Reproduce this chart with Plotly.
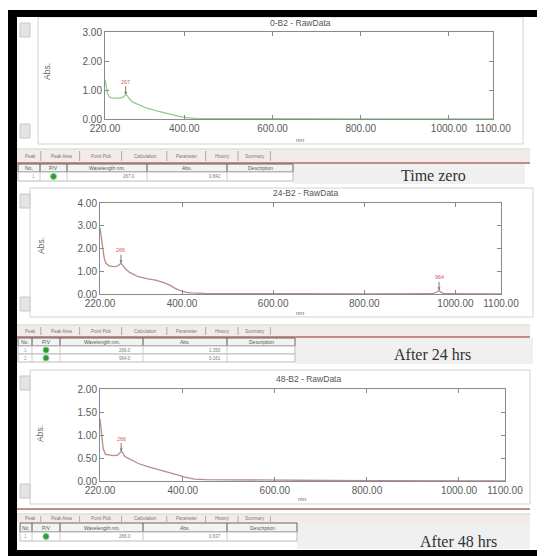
import plotly.graph_objects as go

W, H = 545, 556
OFF = 8  # page body margin offset in the screenshot

# ---------------- data ----------------
wl_0 = [220, 223, 226, 230, 235, 245, 255, 262, 267, 270, 276, 283, 300, 314, 335, 354, 375, 393, 410, 424, 450, 500, 600, 700, 800, 900, 1000, 1100]
abs_0 = [1.36, 1.15, 0.88, 0.76, 0.73, 0.72, 0.72, 0.76, 0.84, 0.82, 0.68, 0.58, 0.46, 0.38, 0.29, 0.21, 0.13, 0.07, 0.04, 0.02, 0.015, 0.01, 0.005, 0.003, 0.002, 0.001, 0.001, 0.0]

wl_24 = [220, 223, 226, 229, 233, 240, 250, 258, 263, 266, 269, 274, 285, 304, 325, 342, 360, 373, 385, 396, 410, 419, 450, 500, 600, 650, 800, 950, 960, 964, 968, 975, 1100]
abs_24 = [2.9, 2.5, 2.0, 1.6, 1.35, 1.24, 1.2, 1.22, 1.3, 1.35, 1.3, 1.14, 0.95, 0.76, 0.66, 0.61, 0.5, 0.39, 0.25, 0.15, 0.07, 0.05, 0.03, 0.02, 0.015, 0.01, 0.008, 0.01, 0.1, 0.16, 0.08, 0.01, 0.005]

wl_48 = [220, 223, 227, 232, 240, 250, 258, 263, 266, 269, 274, 290, 303, 322, 341, 360, 379, 392, 402, 425, 450, 500, 592, 650, 800, 1100]
abs_48 = [1.35, 1.1, 0.7, 0.58, 0.56, 0.55, 0.56, 0.6, 0.64, 0.62, 0.53, 0.45, 0.38, 0.32, 0.27, 0.22, 0.17, 0.12, 0.09, 0.04, 0.03, 0.025, 0.02, 0.01, 0.005, 0.0]

peaks_0 = [(267, 0.84, "267")]
peaks_24 = [(266, 1.35, "266"), (964, 0.16, "964")]
peaks_48 = [(266, 0.64, "266")]

x_ticks = [220, 400, 600, 800, 1000, 1100]
x_tick_text = ["220.00", "400.00", "600.00", "800.00", "1000.00", "1100.00"]
y_ticks_0 = [0, 1, 2, 3]
y_ticks_24 = [0, 1, 2, 3, 4]
y_ticks_48 = [0, 0.5, 1.0, 1.5, 2.0]

titles = ["0-B2 - RawData", "24-B2 - RawData", "48-B2 - RawData"]
captions = ["Time zero", "After 24 hrs", "After 48 hrs"]
tabs = ["Peak", "Peak Area", "Point Pick", "Calculation", "Parameter", "History", "Summary"]
table_header = ["No.", "P/V", "Wavelength nm.", "Abs.", "Description"]
rows_0 = [["1", "P", "267.0", "0.842"]]
rows_24 = [["1", "P", "266.0", "1.350"], ["2", "P", "964.0", "0.161"]]
rows_48 = [["1", "P", "266.0", "0.637"]]

colors = ["#8fcc8f", "#b98a8a", "#b58c8c"]

# ---------------- helpers ----------------
def px(x):
    return (x - OFF) / W

def py(y):
    return 1 - (y - OFF) / H

shapes = []
annotations = []

def rect(x0, y0, x1, y1, fill=None, line=None, lw=1, layer="below"):
    shapes.append(dict(type="rect", xref="paper", yref="paper",
                       x0=px(x0), x1=px(x1), y0=py(y1), y1=py(y0),
                       fillcolor=fill if fill else "rgba(0,0,0,0)",
                       line=dict(color=line if line else "rgba(0,0,0,0)", width=lw if line else 0),
                       layer=layer))

def hline(x0, x1, y, color, lw=1):
    shapes.append(dict(type="line", xref="paper", yref="paper",
                       x0=px(x0), x1=px(x1), y0=py(y), y1=py(y),
                       line=dict(color=color, width=lw), layer="below"))

def vline(x, y0, y1, color, lw=1):
    shapes.append(dict(type="line", xref="paper", yref="paper",
                       x0=px(x), x1=px(x), y0=py(y0), y1=py(y1),
                       line=dict(color=color, width=lw), layer="below"))

def text(x, y, s, size=8, color="#555", family="Liberation Sans", angle=0, xanchor="center"):
    annotations.append(dict(x=px(x), y=py(y), xref="paper", yref="paper", text=s,
                            showarrow=False, textangle=angle, xanchor=xanchor, yanchor="middle",
                            font=dict(size=size, color=color, family=family)))

# ---------------- figure ----------------
fig = go.Figure()

panels = [
    dict(wl=wl_0, ab=abs_0, peaks=peaks_0, yt=y_ticks_0, yr=[0, 3],
         plot=(105, 32, 493, 119), frame=(38, 17, 523, 144), title_xy=(300, 23),
         abs_xy=(47, 72), nm_xy=(300, 140)),
    dict(wl=wl_24, ab=abs_24, peaks=peaks_24, yt=y_ticks_24, yr=[0, 4],
         plot=(100, 203, 501, 294), frame=(30, 188, 533, 317), title_xy=(305, 193),
         abs_xy=(41, 246), nm_xy=(300, 313)),
    dict(wl=wl_48, ab=abs_48, peaks=peaks_48, yt=y_ticks_48, yr=[0, 2],
         plot=(100, 389, 505, 481), frame=(30, 370, 530, 504), title_xy=(308, 379),
         abs_xy=(40, 434), nm_xy=(302, 499)),
]

layout_axes = {}
for i, p in enumerate(panels):
    n = "" if i == 0 else str(i + 1)
    x0, y0, x1, y1 = p["plot"]
    fig.add_trace(go.Scatter(x=p["wl"], y=p["ab"], mode="lines",
                             line=dict(color=colors[i], width=1.3),
                             xaxis="x" + n, yaxis="y" + n, showlegend=False,
                             hoverinfo="skip"))
    layout_axes["xaxis" + n] = dict(domain=[px(x0), px(x1)], range=[220, 1100], anchor="y" + n,
                                    tickvals=x_ticks, ticktext=x_tick_text, automargin=False,
                                    ticks="inside", ticklen=4, tickcolor="#888",
                                    showline=True, linecolor="#8a8a8a", linewidth=1, mirror="ticks",
                                    showgrid=False, zeroline=False,
                                    tickfont=dict(size=10, color="#5a5a5a", family="Liberation Sans"))
    layout_axes["yaxis" + n] = dict(domain=[py(y1), py(y0)], range=p["yr"], anchor="x" + n,
                                    tickvals=p["yt"], ticktext=["%.2f" % v for v in p["yt"]],
                                    automargin=False,
                                    ticks="inside", ticklen=4, tickcolor="#888",
                                    showline=True, linecolor="#8a8a8a", linewidth=1, mirror="ticks",
                                    showgrid=False, zeroline=False,
                                    tickfont=dict(size=10, color="#5a5a5a", family="Liberation Sans"))
    for (pw, pa, lab) in p["peaks"]:
        annotations.append(dict(x=pw, y=pa, xref="x" + n, yref="y" + n, text=lab,
                                showarrow=True, arrowhead=2, arrowsize=0.6, arrowwidth=1,
                                arrowcolor="#777", ax=0, ay=-13,
                                font=dict(size=5.5, color="#d06060", family="Liberation Sans")))
    fx0, fy0, fx1, fy1 = p["frame"]
    rect(fx0, fy0, fx1, fy1, fill="white", line="#d2d2d2")
    text(*p["title_xy"], titles[i], size=8.5, color="#555")
    text(*p["abs_xy"], "Abs.", size=8.5, color="#666", angle=-90)
    text(*p["nm_xy"], "nm", size=6, color="#666")
    rect(20, fy0 + 6, 30, fy0 + 20, fill="#e4e4e4", line="#c8c8c8")
    rect(20, fy1 - 20, 30, fy1 - 6, fill="#e4e4e4", line="#c8c8c8")

tables = [
    dict(tab_y=(150, 162), red_y=163, head=(164, 172), rows=rows_0, row_h=9,
         cols=[18, 40, 67, 147, 227, 293], band=(293, 164, 525, 184), cap_xy=(433, 175)),
    dict(tab_y=(326, 336), red_y=337, head=(338, 346), rows=rows_24, row_h=8,
         cols=[18, 32, 60, 143, 227, 295], band=(295, 338, 533, 364), cap_xy=(432, 354)),
    dict(tab_y=(515, 523), red_y=509, head=(523, 532), rows=rows_48, row_h=9,
         cols=[20, 32, 60, 143, 227, 297], band=(297, 523, 530, 549), cap_xy=(458, 541)),
]
for i, t in enumerate(tables):
    ty0, ty1 = t["tab_y"]
    rect(17, ty0, 530, ty1, fill="#f5eaea")
    hline(17, 530, ty0 - 1, "#bfcfbf", 1)
    hline(17, 530, t["red_y"], "#c48c86", 2)
    tx = 20
    for name in tabs:
        w = 8 + len(name) * 3.2
        text(tx + w / 2, (ty0 + ty1) / 2, name, size=4.5, color="#777")
        vline(tx + w, ty0 + 1, ty1 - 1, "#aaa")
        tx += w + 2
    cols = t["cols"]
    h0, h1 = t["head"]
    rect(t["band"][0], t["band"][1], t["band"][2], t["band"][3], fill="#f0f0f0")
    rect(cols[0], h0, cols[-1], h1, fill="#f3f3f3", line="#666")
    for k in range(len(table_header)):
        text((cols[k] + cols[k + 1]) / 2, (h0 + h1) / 2, table_header[k], size=5, color="#555")
        if 0 < k:
            vline(cols[k], h0, h1, "#555")
    ry = h1
    for r in t["rows"]:
        rect(cols[0], ry, cols[-1], ry + t["row_h"], fill="white", line="#bbb")
        for k in range(1, len(cols) - 1):
            vline(cols[k], ry, ry + t["row_h"], "#ccc")
        text(cols[1] - 3, ry + t["row_h"] / 2, r[0], size=4.5, color="#99c", xanchor="right")
        shapes.append(dict(type="circle", xref="paper", yref="paper",
                           x0=px((cols[1] + cols[2]) / 2 - 3), x1=px((cols[1] + cols[2]) / 2 + 3),
                           y0=py(ry + t["row_h"] / 2 + 3), y1=py(ry + t["row_h"] / 2 - 3),
                           fillcolor="#2a9a3a", line=dict(color="#7fd07f", width=1), layer="above"))
        text(cols[3] - 10, ry + t["row_h"] / 2, r[2], size=4.5, color="#777", xanchor="right")
        text(cols[4] - 4, ry + t["row_h"] / 2, r[3], size=4.5, color="#777", xanchor="right")
        ry += t["row_h"]
    text(*t["cap_xy"], captions[i], size=16, color="#333", family="Liberation Serif")

# black screenshot borders (window pixels)
rect(8, 10, 553, 17, fill="#000000", layer="above")
rect(8, 10, 17, 564, fill="#000000", layer="above")
rect(8, 550, 553, 564, fill="#000000", layer="above")

fig.update_layout(width=W, height=H, margin=dict(l=0, r=0, t=0, b=0, autoexpand=False),
                  paper_bgcolor="white", plot_bgcolor="white",
                  shapes=shapes, annotations=annotations, **layout_axes)

fig.write_html("out.html")
